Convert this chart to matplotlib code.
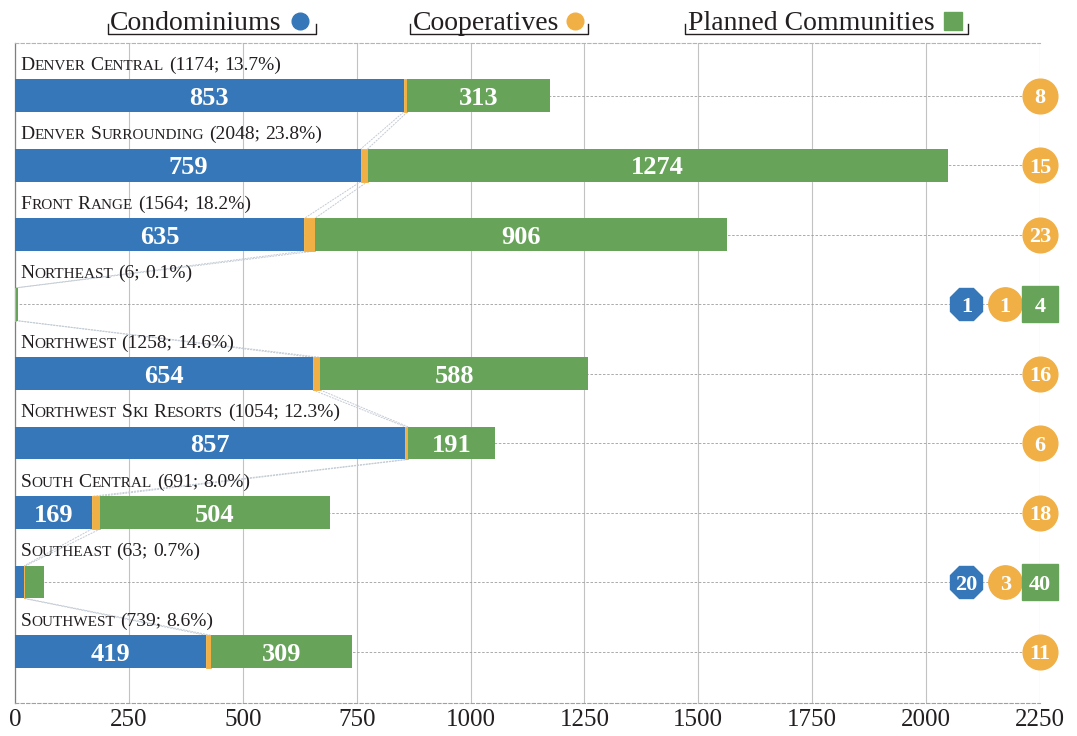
import matplotlib
matplotlib.use("Agg")
import matplotlib.pyplot as plt
from matplotlib.offsetbox import TextArea, HPacker, AnnotationBbox
from matplotlib.transforms import offset_copy
from matplotlib.lines import Line2D
import numpy as np

plt.rcParams["font.family"] = ["Liberation Serif", "DejaVu Serif"]

# Housing associations by region
regions = ["Denver Central", "Denver Surrounding", "Front Range", "Northeast",
           "Northwest", "Northwest Ski Resorts", "South Central", "Southeast",
           "Southwest"]
condos = [853, 759, 635, 1, 654, 857, 169, 20, 419]
coops = [8, 15, 23, 1, 16, 6, 18, 3, 11]
planned = [313, 1274, 906, 4, 588, 191, 504, 40, 309]
xticks = [0, 250, 500, 750, 1000, 1250, 1500, 1750, 2000, 2250]
series_names = ["Condominiums", "Cooperatives", "Planned Communities"]

BLUE = "#3577b9"
ORANGE = "#f1b045"
GREEN = "#67a45a"
INK = "#231f20"
LINK = "#c3cbd4"

condos_a = np.array(condos)
coops_a = np.array(coops)
planned_a = np.array(planned)
totals = condos_a + coops_a + planned_a
grand = totals.sum()

fig = plt.figure(figsize=(10.77, 7.36), dpi=100)
W, H = 1077, 736
ax = fig.add_axes([15 / W, 1 - 703 / H, (1040 - 15) / W, (703 - 43) / H])

y = np.arange(len(regions))
bar_h = 0.47

ax.barh(y, condos_a, height=bar_h, color=BLUE, zorder=3)
ax.barh(y, coops_a, left=condos_a, height=bar_h, color=ORANGE,
        edgecolor=ORANGE, linewidth=0.6, zorder=3)
ax.barh(y, planned_a, left=condos_a + coops_a, height=bar_h, color=GREEN,
        zorder=3)

# value labels inside the wide segments
for i in range(len(regions)):
    if condos_a[i] >= 100:
        ax.text(condos_a[i] / 2, y[i], str(condos_a[i]), ha="center",
                va="center_baseline", color="white", fontsize=19,
                fontweight="bold", zorder=5)
    if planned_a[i] >= 100:
        ax.text(condos_a[i] + coops_a[i] + planned_a[i] / 2, y[i],
                str(planned_a[i]), ha="center", va="center_baseline",
                color="white", fontsize=19, fontweight="bold", zorder=5)

# thin links joining the cooperative segments of consecutive bars
for i in range(len(regions) - 1):
    for a, b in ((condos_a[i], condos_a[i + 1]),
                 (condos_a[i] + coops_a[i], condos_a[i + 1] + coops_a[i + 1])):
        ax.plot([a, b], [y[i] + bar_h / 2, y[i + 1] - bar_h / 2],
                color=LINK, lw=0.7, ls=(0, (2, 1)), zorder=2)

# small-caps region titles
BIG, SMALL = 14, 11
space = 3.6
for i, name in enumerate(regions):
    words = []
    for w in name.split():
        parts = [TextArea(w[0], textprops=dict(fontsize=BIG, color=INK)),
                 TextArea(w[1:].upper(), textprops=dict(fontsize=SMALL, color=INK))]
        words.append(HPacker(children=parts, align="baseline", pad=0, sep=0))
    pct = 100 * totals[i] / grand
    for w in (f"({totals[i]};", f"{pct:.1f}%)"):
        words.append(TextArea(w, textprops=dict(fontsize=BIG, color=INK)))
    line = HPacker(children=words, align="baseline", pad=0, sep=space)
    ab = AnnotationBbox(line, (0, y[i] - bar_h / 2), xybox=(3.8, 4.0),
                        xycoords="data", boxcoords="offset points",
                        box_alignment=(0, 0), frameon=False, pad=0,
                        annotation_clip=False, zorder=6)
    ax.add_artist(ab)

# count badges at the right edge
x_end = xticks[-1]
for i in range(len(regions)):
    if totals[i] < 100:
        items = [(-53, "8", BLUE, condos_a[i], 25),
                 (-25, "o", ORANGE, coops_a[i], 24),
                 (0, "s", GREEN, planned_a[i], 26)]
    else:
        items = [(0, "o", ORANGE, coops_a[i], 25)]
    for dx, mk, col, val, ms in items:
        tr = offset_copy(ax.transData, fig=fig, x=dx, y=0, units="points")
        ax.plot([x_end], [y[i]], marker=mk, ms=ms, color=col, mec=col,
                transform=tr, clip_on=False, zorder=6, ls="none")
        ax.text(x_end, y[i], str(val), transform=tr, ha="center",
                va="center_baseline", color="white", fontsize=16,
                fontweight="bold", zorder=7, clip_on=False)

ax.set_xlim(0, x_end)
ax.set_ylim(len(regions) - 1 + 0.74, -0.76)
ax.set_xticks(xticks)
ax.set_xticklabels([str(t) for t in xticks], fontsize=18, color=INK)
ax.set_yticks([])
ax.tick_params(axis="x", length=0, pad=4)
ax.grid(axis="x", color="#c2c2c2", lw=0.8, zorder=0)
ax.hlines(y, 0, x_end, color="#9e9e9e", lw=0.6, ls=(0, (3, 2)), zorder=1)
ax.set_axisbelow(True)

ax.spines["left"].set_color("#7f7f7f")
ax.spines["left"].set_linewidth(0.9)
ax.spines["bottom"].set_color("#a0a0a0")
ax.spines["bottom"].set_linestyle((0, (3, 2)))
ax.spines["bottom"].set_linewidth(0.8)
ax.spines["top"].set_color("#b4b4b4")
ax.spines["top"].set_linestyle((0, (3, 2)))
ax.spines["top"].set_linewidth(0.8)
ax.spines["right"].set_visible(False)

# bracketed legend along the top
legend_items = [
    (series_names[0], 110, 300, "o", BLUE, 108, 316),
    (series_names[1], 413, 575, "o", ORANGE, 410, 588),
    (series_names[2], 688, 953, "s", GREEN, 685, 968),
]
for label, tx, mx, mk, col, b0, b1 in legend_items:
    fig.text(tx / W, 1 - 30 / H, label, fontsize=20, color=INK,
             ha="left", va="baseline")
    fig.add_artist(Line2D([mx / W], [1 - 21 / H], marker=mk,
                          ms=12 if mk == "o" else 13,
                          color=col, mec=col, ls="none"))
    fig.add_artist(Line2D([b0 / W, b0 / W, b1 / W, b1 / W],
                          [1 - 24 / H, 1 - 34 / H, 1 - 34 / H, 1 - 24 / H],
                          color=INK, lw=1.0))

fig.savefig("out.png", dpi=100)
